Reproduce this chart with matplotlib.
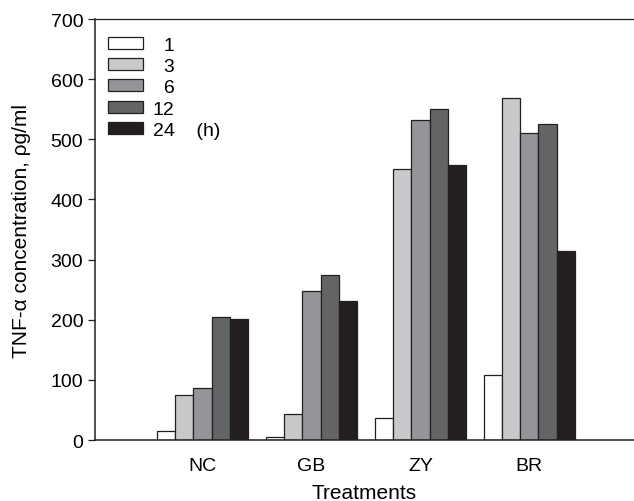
import numpy as np
import matplotlib
matplotlib.use('Agg')
import matplotlib.pyplot as plt

plt.rcParams['font.family'] = ['Liberation Sans', 'DejaVu Sans']

# Data
treatments = ['NC', 'GB', 'ZY', 'BR']
hours = ['1', '3', '6', '12', '24']
values = {
    '1':  [15, 5, 37, 108],
    '3':  [75, 43, 450, 568],
    '6':  [86, 248, 533, 510],
    '12': [204, 274, 550, 525],
    '24': [201, 231, 457, 315],
}
colors = ['#ffffff', '#c8c9cb', '#939598', '#636466', '#231f20']
yticks = [0, 100, 200, 300, 400, 500, 600, 700]

fig = plt.figure(figsize=(6.34, 5.02), dpi=100)
ax = fig.add_axes([0.150, 0.1215, 0.850, 0.8385])

x = np.arange(1, len(treatments) + 1)
w = 1 / 6
for i, h in enumerate(hours):
    ax.bar(x + (i - 2) * w, values[h], width=w, color=colors[i],
           edgecolor='#231f20', linewidth=0.9, zorder=2)

ax.set_xlim(0.014, 4.96)
ax.set_ylim(0, 700)
ax.set_yticks(yticks)
ax.set_xticks(x)
ax.set_xticklabels(treatments)
ax.tick_params(axis='y', direction='out', length=5, width=0.9, labelsize=14, pad=3.5, color='#231f20')
ax.tick_params(axis='x', length=0, labelsize=14, pad=12)

ax.spines['right'].set_visible(False)
for s in ['left', 'bottom', 'top']:
    ax.spines[s].set_linewidth(1.1)
    ax.spines[s].set_color('#231f20')
ax.spines['top'].set_linewidth(0.9)

ax.set_ylabel('TNF-\u03b1 concentration, \u03c1g/ml', fontsize=15, labelpad=14)
ax.set_xlabel('Treatments', fontsize=15, labelpad=7)

# legend labels right-aligned with figure spaces
labels = [h.rjust(2, '\u2007') for h in hours]
labels[-1] = labels[-1] + '    (h)'
handles = [plt.Rectangle((0, 0), 1, 1, facecolor=c, edgecolor='#231f20', linewidth=0.9) for c in colors]
ax.legend(handles, labels, loc='upper left', bbox_to_anchor=(0.024, 0.958),
          frameon=False, fontsize=14, handlelength=1.8, handleheight=0.58,
          handletextpad=0.5, labelspacing=0.22, borderaxespad=0, borderpad=0)

fig.savefig('out.png', dpi=100)
